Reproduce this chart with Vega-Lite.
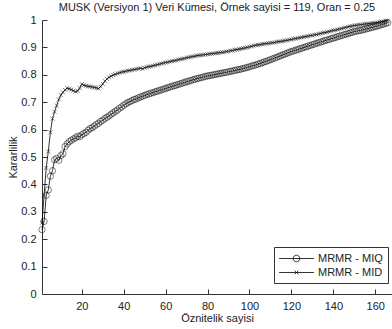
{
  "$schema": "https://vega.github.io/schema/vega-lite/v6.json",
  "width": 350,
  "height": 274,
  "autosize": "none",
  "padding": {"left": 42, "top": 20, "right": 0, "bottom": 35},
  "background": "white",
  "title": {"text": "MUSK (Versiyon 1) Veri Kümesi, Örnek sayisi = 119, Oran = 0.25", "font": "Liberation Sans", "fontSize": 11, "fontWeight": "normal", "color": "#222", "anchor": "middle", "offset": 1},
  "config": {
    "view": {"stroke": null},
    "axis": {"grid": false, "labelFont": "Liberation Sans", "titleFont": "Liberation Sans", "labelFontSize": 11, "titleFontSize": 11, "titleFontWeight": "normal", "labelColor": "#222", "titleColor": "#222", "domainColor": "#333", "tickColor": "#333", "tickSize": -5, "labelPadding": 11}
  },
  "data": {"values": [
{"n":1,"miq":0.235,"mid":0.26},{"n":2,"miq":0.265,"mid":0.36},{"n":3,"miq":0.36,"mid":0.46},{"n":4,"miq":0.38,"mid":0.52},{"n":5,"miq":0.43,"mid":0.59},
{"n":6,"miq":0.45,"mid":0.64},{"n":7,"miq":0.49,"mid":0.665},{"n":8,"miq":0.495,"mid":0.688},{"n":9,"miq":0.488,"mid":0.71},{"n":10,"miq":0.505,"mid":0.726},
{"n":11,"miq":0.512,"mid":0.736},{"n":12,"miq":0.538,"mid":0.745},{"n":13,"miq":0.548,"mid":0.751},{"n":14,"miq":0.556,"mid":0.749},{"n":15,"miq":0.561,"mid":0.746},
{"n":16,"miq":0.566,"mid":0.742},{"n":17,"miq":0.57,"mid":0.738},{"n":18,"miq":0.576,"mid":0.741},{"n":19,"miq":0.574,"mid":0.752},{"n":20,"miq":0.581,"mid":0.766},
{"n":21,"miq":0.586,"mid":0.762},{"n":22,"miq":0.59,"mid":0.76},{"n":23,"miq":0.598,"mid":0.758},{"n":24,"miq":0.604,"mid":0.757},{"n":25,"miq":0.607,"mid":0.755},
{"n":26,"miq":0.613,"mid":0.754},{"n":27,"miq":0.619,"mid":0.752},{"n":28,"miq":0.623,"mid":0.75},{"n":29,"miq":0.63,"mid":0.757},{"n":30,"miq":0.634,"mid":0.767},
{"n":31,"miq":0.641,"mid":0.777},{"n":32,"miq":0.645,"mid":0.785},{"n":33,"miq":0.65,"mid":0.791},{"n":34,"miq":0.656,"mid":0.795},{"n":35,"miq":0.661,"mid":0.799},
{"n":36,"miq":0.667,"mid":0.802},{"n":37,"miq":0.671,"mid":0.805},{"n":38,"miq":0.678,"mid":0.807},{"n":39,"miq":0.683,"mid":0.81},{"n":40,"miq":0.689,"mid":0.811},
{"n":41,"miq":0.694,"mid":0.813},{"n":42,"miq":0.699,"mid":0.815},{"n":43,"miq":0.702,"mid":0.816},{"n":44,"miq":0.706,"mid":0.818},{"n":45,"miq":0.71,"mid":0.819},
{"n":46,"miq":0.712,"mid":0.821},{"n":47,"miq":0.716,"mid":0.822},{"n":48,"miq":0.719,"mid":0.824},{"n":49,"miq":0.722,"mid":0.822},{"n":50,"miq":0.725,"mid":0.826},
{"n":51,"miq":0.728,"mid":0.828},{"n":52,"miq":0.73,"mid":0.83},{"n":53,"miq":0.733,"mid":0.831},{"n":54,"miq":0.735,"mid":0.833},{"n":55,"miq":0.738,"mid":0.835},
{"n":56,"miq":0.74,"mid":0.837},{"n":57,"miq":0.743,"mid":0.839},{"n":58,"miq":0.745,"mid":0.841},{"n":59,"miq":0.748,"mid":0.843},{"n":60,"miq":0.75,"mid":0.845},
{"n":61,"miq":0.753,"mid":0.846},{"n":62,"miq":0.755,"mid":0.848},{"n":63,"miq":0.758,"mid":0.85},{"n":64,"miq":0.76,"mid":0.851},{"n":65,"miq":0.762,"mid":0.853},
{"n":66,"miq":0.765,"mid":0.855},{"n":67,"miq":0.767,"mid":0.857},{"n":68,"miq":0.77,"mid":0.858},{"n":69,"miq":0.772,"mid":0.86},{"n":70,"miq":0.775,"mid":0.862},
{"n":71,"miq":0.777,"mid":0.864},{"n":72,"miq":0.779,"mid":0.865},{"n":73,"miq":0.782,"mid":0.867},{"n":74,"miq":0.784,"mid":0.868},{"n":75,"miq":0.786,"mid":0.87},
{"n":76,"miq":0.788,"mid":0.871},{"n":77,"miq":0.79,"mid":0.872},{"n":78,"miq":0.792,"mid":0.873},{"n":79,"miq":0.794,"mid":0.874},{"n":80,"miq":0.796,"mid":0.875},
{"n":81,"miq":0.797,"mid":0.876},{"n":82,"miq":0.799,"mid":0.877},{"n":83,"miq":0.8,"mid":0.878},{"n":84,"miq":0.802,"mid":0.879},{"n":85,"miq":0.803,"mid":0.88},
{"n":86,"miq":0.805,"mid":0.881},{"n":87,"miq":0.806,"mid":0.882},{"n":88,"miq":0.808,"mid":0.883},{"n":89,"miq":0.809,"mid":0.885},{"n":90,"miq":0.811,"mid":0.886},
{"n":91,"miq":0.813,"mid":0.888},{"n":92,"miq":0.814,"mid":0.889},{"n":93,"miq":0.816,"mid":0.891},{"n":94,"miq":0.818,"mid":0.892},{"n":95,"miq":0.819,"mid":0.894},
{"n":96,"miq":0.821,"mid":0.895},{"n":97,"miq":0.823,"mid":0.897},{"n":98,"miq":0.825,"mid":0.898},{"n":99,"miq":0.827,"mid":0.9},{"n":100,"miq":0.829,"mid":0.902},
{"n":101,"miq":0.832,"mid":0.904},{"n":102,"miq":0.834,"mid":0.906},{"n":103,"miq":0.836,"mid":0.908},{"n":104,"miq":0.839,"mid":0.909},{"n":105,"miq":0.841,"mid":0.91},
{"n":106,"miq":0.844,"mid":0.912},{"n":107,"miq":0.847,"mid":0.913},{"n":108,"miq":0.849,"mid":0.914},{"n":109,"miq":0.852,"mid":0.915},{"n":110,"miq":0.855,"mid":0.916},
{"n":111,"miq":0.858,"mid":0.917},{"n":112,"miq":0.861,"mid":0.918},{"n":113,"miq":0.864,"mid":0.92},{"n":114,"miq":0.867,"mid":0.921},{"n":115,"miq":0.87,"mid":0.922},
{"n":116,"miq":0.873,"mid":0.923},{"n":117,"miq":0.876,"mid":0.925},{"n":118,"miq":0.879,"mid":0.926},{"n":119,"miq":0.882,"mid":0.928},{"n":120,"miq":0.885,"mid":0.929},
{"n":121,"miq":0.887,"mid":0.931},{"n":122,"miq":0.89,"mid":0.932},{"n":123,"miq":0.892,"mid":0.934},{"n":124,"miq":0.895,"mid":0.935},{"n":125,"miq":0.897,"mid":0.937},
{"n":126,"miq":0.9,"mid":0.938},{"n":127,"miq":0.902,"mid":0.94},{"n":128,"miq":0.905,"mid":0.941},{"n":129,"miq":0.907,"mid":0.943},{"n":130,"miq":0.91,"mid":0.944},
{"n":131,"miq":0.912,"mid":0.946},{"n":132,"miq":0.915,"mid":0.947},{"n":133,"miq":0.917,"mid":0.949},{"n":134,"miq":0.92,"mid":0.951},{"n":135,"miq":0.922,"mid":0.953},
{"n":136,"miq":0.925,"mid":0.954},{"n":137,"miq":0.927,"mid":0.956},{"n":138,"miq":0.929,"mid":0.958},{"n":139,"miq":0.932,"mid":0.96},{"n":140,"miq":0.934,"mid":0.962},
{"n":141,"miq":0.936,"mid":0.963},{"n":142,"miq":0.939,"mid":0.965},{"n":143,"miq":0.941,"mid":0.967},{"n":144,"miq":0.943,"mid":0.969},{"n":145,"miq":0.946,"mid":0.971},
{"n":146,"miq":0.948,"mid":0.973},{"n":147,"miq":0.95,"mid":0.975},{"n":148,"miq":0.953,"mid":0.977},{"n":149,"miq":0.955,"mid":0.978},{"n":150,"miq":0.958,"mid":0.98},
{"n":151,"miq":0.959,"mid":0.981},{"n":152,"miq":0.961,"mid":0.982},{"n":153,"miq":0.962,"mid":0.983},{"n":154,"miq":0.964,"mid":0.984},{"n":155,"miq":0.966,"mid":0.985},
{"n":156,"miq":0.968,"mid":0.986},{"n":157,"miq":0.97,"mid":0.987},{"n":158,"miq":0.972,"mid":0.988},{"n":159,"miq":0.974,"mid":0.989},{"n":160,"miq":0.976,"mid":0.99},
{"n":161,"miq":0.978,"mid":0.991},{"n":162,"miq":0.98,"mid":0.993},{"n":163,"miq":0.983,"mid":0.994},{"n":164,"miq":0.985,"mid":0.995},{"n":165,"miq":0.988,"mid":0.997},
{"n":166,"miq":0.99,"mid":0.998}
  ]},
  "transform": [{"fold": ["miq", "mid"], "as": ["series", "value"]}],
  "encoding": {
    "x": {"field": "n", "type": "quantitative", "scale": {"domain": [1, 168], "nice": false, "zero": false},
      "axis": {"values": [20, 40, 60, 80, 100, 120, 140, 160], "title": "Öznitelik sayisi", "titlePadding": 1}},
    "y": {"field": "value", "type": "quantitative", "scale": {"domain": [0, 1], "nice": false},
      "axis": {"values": [0, 0.1, 0.2, 0.3, 0.4, 0.5, 0.6, 0.7, 0.8, 0.9, 1], "format": "~g", "title": "Kararlilik", "titlePadding": 2}}
  },
  "layer": [
    {
      "mark": {"type": "line", "strokeWidth": 0.8},
      "encoding": {
        "color": {"field": "series", "type": "nominal", "scale": {"domain": ["miq", "mid"], "range": ["#000000", "#000000"]},
          "legend": {"orient": "none", "legendX": 232, "legendY": 227, "title": null, "padding": 5, "strokeColor": "#333", "fillColor": "white",
            "labelExpr": "datum.value === 'miq' ? 'MRMR - MIQ' : 'MRMR - MID'", "labelFont": "Liberation Sans", "labelFontSize": 11, "labelColor": "#222",
            "symbolSize": 144, "symbolOffset": 11, "labelOffset": 15, "rowPadding": 2, "symbolStrokeWidth": 0.8, "symbolFillColor": "transparent", "symbolType": "M-2.9,0L2.9,0",
            "encode": {"symbols": {"update": {"shape": {"signal": "datum.value === 'miq' ? 'M-2.9,0L2.9,0M-0.55,0A0.55,0.55 0 1,0 0.55,0A0.55,0.55 0 1,0 -0.55,0' : 'M-2.9,0L2.9,0M-0.3,-0.3L0.3,0.3M-0.3,0.3L0.3,-0.3'"}, "fill": {"value": "transparent"}, "stroke": {"value": "#000"}}}}}}
      }
    },
    {
      "transform": [{"filter": "datum.series === 'miq'"}],
      "mark": {"type": "point", "filled": false, "color": "#000", "strokeWidth": 0.7, "shape": "circle", "size": 40}
    },
    {
      "transform": [{"filter": "datum.series === 'mid'"}],
      "mark": {"type": "point", "filled": false, "color": "#000", "strokeWidth": 0.7, "shape": "M-1,-1L1,1M-1,1L1,-1", "size": 16}
    }
  ]
}
